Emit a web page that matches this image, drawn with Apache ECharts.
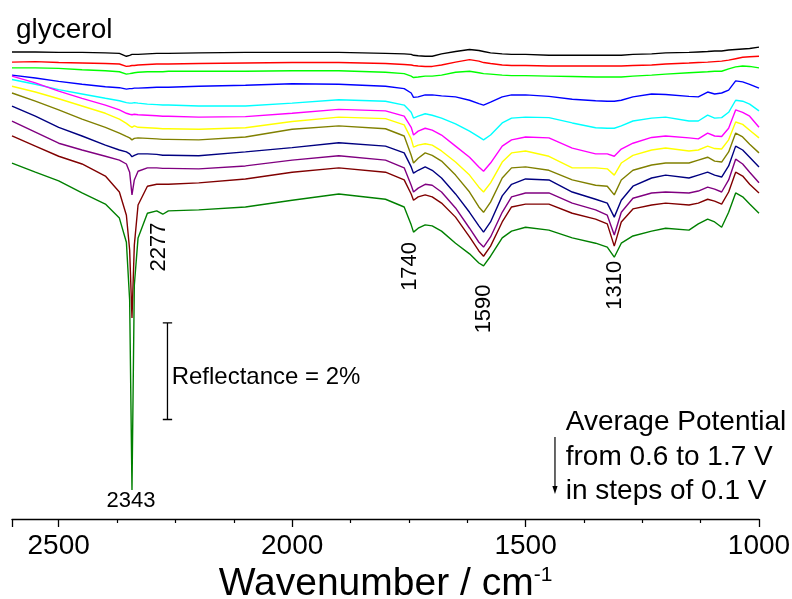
<!DOCTYPE html>
<html><head><meta charset="utf-8">
<script src="https://cdn.jsdelivr.net/npm/echarts@6/dist/echarts.min.js"></script>
<style>html,body{margin:0;padding:0;background:#fff}#c{width:792px;height:599px}</style>
</head><body><div id="c"></div>
<script>
// wavenumber grid (cm^-1)
const wavenumbers = [2600,2550,2500,2450,2400,2370,2355,2348,2343,2338,
  2330,2310,2290,2277,2265,2200,2100,2000,1900,1800,
  1760,1745,1740,1730,1715,1700,1680,1650,1620,1600,
  1590,1575,1550,1530,1500,1450,1400,1350,1325,1310,
  1295,1270,1230,1200,1150,1130,1110,1095,1080,1065,
  1050,1035,1020,1000];
const potentials = ['0.6 V','0.7 V','0.8 V','0.9 V','1.0 V','1.1 V','1.2 V','1.3 V','1.4 V','1.5 V','1.6 V','1.7 V'];
const colors = ['#000000','#ff0000','#00ff00','#0000ff','#00ffff','#ff00ff','#ffff00','#808000','#000080','#800080','#800000','#008000'];
// reflectance (%) incl. stacking offset
const r06 = [9.67,9.67,9.66,9.66,9.65,9.64,9.58,9.60,9.62,9.62,
  9.62,9.63,9.64,9.64,9.64,9.65,9.66,9.66,9.66,9.64,
  9.63,9.62,9.60,9.59,9.58,9.58,9.63,9.68,9.72,9.70,
  9.68,9.65,9.63,9.62,9.62,9.60,9.60,9.60,9.60,9.60,
  9.60,9.62,9.63,9.65,9.66,9.67,9.68,9.69,9.69,9.71,
  9.72,9.73,9.74,9.77];
const r07 = [9.46,9.47,9.45,9.44,9.43,9.42,9.37,9.38,9.39,9.39,
  9.40,9.41,9.42,9.42,9.42,9.43,9.44,9.45,9.45,9.43,
  9.41,9.40,9.39,9.38,9.37,9.37,9.40,9.46,9.51,9.48,
  9.45,9.43,9.40,9.39,9.39,9.38,9.38,9.38,9.38,9.38,
  9.38,9.39,9.40,9.42,9.44,9.45,9.46,9.47,9.48,9.50,
  9.53,9.56,9.57,9.58];
const r08 = [9.34,9.34,9.33,9.30,9.28,9.26,9.21,9.22,9.23,9.24,
  9.25,9.26,9.26,9.26,9.27,9.27,9.27,9.28,9.28,9.25,
  9.22,9.17,9.14,9.15,9.17,9.17,9.19,9.25,9.27,9.24,
  9.22,9.21,9.19,9.18,9.18,9.17,9.16,9.15,9.15,9.15,
  9.15,9.17,9.19,9.21,9.24,9.25,9.26,9.27,9.27,9.32,
  9.36,9.38,9.37,9.34];
const r09 = [9.19,9.13,9.06,9.00,8.95,8.93,8.90,8.91,8.91,8.92,
  8.92,8.93,8.94,8.94,8.94,8.96,8.98,9.01,9.00,8.96,
  8.91,8.82,8.73,8.74,8.78,8.78,8.76,8.74,8.67,8.60,
  8.57,8.63,8.74,8.78,8.78,8.75,8.69,8.66,8.65,8.65,
  8.67,8.74,8.80,8.79,8.75,8.74,8.84,8.80,8.82,8.88,
  9.07,9.05,9.00,8.92];
const r10 = [9.10,9.00,8.89,8.80,8.71,8.66,8.62,8.61,8.61,8.62,
  8.61,8.59,8.58,8.57,8.57,8.55,8.55,8.61,8.68,8.65,
  8.57,8.42,8.30,8.34,8.39,8.36,8.30,8.18,8.03,7.91,
  7.85,7.95,8.20,8.30,8.32,8.31,8.20,8.10,8.09,8.09,
  8.14,8.24,8.30,8.32,8.24,8.24,8.36,8.30,8.31,8.42,
  8.67,8.65,8.59,8.45];
const r11 = [9.17,9.03,8.86,8.71,8.57,8.47,8.40,8.38,8.37,8.38,
  8.37,8.36,8.35,8.34,8.34,8.32,8.33,8.40,8.48,8.45,
  8.34,8.11,7.95,8.03,8.09,8.05,7.95,7.72,7.49,7.29,
  7.20,7.37,7.72,7.85,7.91,7.89,7.68,7.56,7.56,7.51,
  7.66,7.78,7.90,7.93,7.89,7.87,7.99,7.93,7.92,8.09,
  8.47,8.42,8.34,8.11];
const r12 = [8.96,8.84,8.70,8.55,8.40,8.28,8.19,8.14,8.11,8.14,
  8.11,8.10,8.09,8.08,8.08,8.07,8.10,8.23,8.32,8.29,
  8.16,7.87,7.70,7.74,7.77,7.74,7.62,7.39,7.12,6.87,
  6.77,6.96,7.39,7.58,7.62,7.51,7.27,7.27,7.25,7.12,
  7.37,7.53,7.64,7.68,7.62,7.64,7.72,7.67,7.66,7.85,
  8.22,8.17,8.05,7.89];
const r13 = [8.82,8.65,8.47,8.28,8.11,7.99,7.92,7.89,7.85,7.88,
  7.89,7.88,7.87,7.86,7.86,7.85,7.91,8.07,8.14,8.08,
  7.93,7.53,7.37,7.47,7.58,7.53,7.41,7.12,6.77,6.46,
  6.35,6.56,7.06,7.27,7.29,7.22,7.02,6.91,6.89,6.71,
  7.02,7.22,7.33,7.37,7.37,7.43,7.49,7.41,7.39,7.60,
  7.99,7.91,7.76,7.58];
const r14 = [8.55,8.34,8.11,7.93,7.74,7.64,7.60,7.56,7.50,7.53,
  7.56,7.56,7.55,7.53,7.53,7.52,7.60,7.69,7.79,7.72,
  7.58,7.29,7.16,7.22,7.29,7.22,7.06,6.73,6.35,6.07,
  5.94,6.15,6.69,6.93,7.04,7.02,6.77,6.62,6.54,6.25,
  6.60,6.89,7.06,7.12,7.06,7.12,7.18,7.12,7.08,7.31,
  7.72,7.64,7.49,7.29];
const r15 = [8.24,8.01,7.78,7.64,7.51,7.43,7.35,7.18,6.71,7.02,
  7.20,7.27,7.27,7.26,7.26,7.25,7.31,7.43,7.52,7.43,
  7.27,6.91,6.77,6.85,6.93,6.91,6.77,6.44,6.02,5.73,
  5.63,5.84,6.35,6.67,6.75,6.75,6.54,6.40,6.29,5.88,
  6.35,6.64,6.75,6.77,6.75,6.79,6.87,6.83,6.77,7.02,
  7.45,7.35,7.18,6.96];
const r16 = [7.93,7.72,7.51,7.35,7.10,6.77,6.29,5.57,4.16,5.67,
  6.50,6.89,6.93,6.93,6.93,6.96,7.04,7.18,7.27,7.18,
  7.02,6.73,6.60,6.67,6.71,6.67,6.54,6.25,5.84,5.55,
  5.44,5.65,6.15,6.46,6.52,6.52,6.33,6.21,6.11,5.65,
  6.15,6.42,6.50,6.54,6.50,6.54,6.62,6.58,6.52,6.77,
  7.18,7.10,6.93,6.75];
const r17 = [7.37,7.18,7.00,6.75,6.52,6.23,5.73,4.53,0.60,4.84,
  5.82,6.33,6.38,6.31,6.38,6.40,6.46,6.60,6.73,6.62,
  6.46,6.09,5.94,6.02,6.09,6.07,5.96,5.71,5.49,5.30,
  5.24,5.44,5.82,5.96,6.04,5.98,5.82,5.71,5.63,5.42,
  5.71,5.86,5.96,6.02,5.98,6.11,6.21,6.15,6.04,6.35,
  6.75,6.67,6.52,6.33];
const seriesValues = [r06,r07,r08,r09,r10,r11,r12,r13,r14,r15,r16,r17];
// scale bar: 2 % reflectance
const scaleBarWn = 2267, scaleBarFrom = 2.06, scaleBarSpan = 2, scaleBarCap = 10;
// peak annotations [text, wavenumber, reflectance, rotated]
const peakLabels = [['2277',2286,5.63,true],['1740',1748,5.23,true],['1590',1590,4.35,true],['1310',1309,4.84,true],['2343',2345,0.38,false]];

const F = '"Liberation Sans", Arial, Helvetica, sans-serif';
const series = potentials.map((p,i)=>({
  name:p, type:'line', symbol:'none', showSymbol:false, silent:true,
  data: wavenumbers.map((w,j)=>[w, seriesValues[i][j]]),
  lineStyle:{width:1.4,color:colors[i]}, itemStyle:{color:colors[i]}, z:2+i
}));
const sbTop = scaleBarFrom + scaleBarSpan;
series.push({
  name:'scale', type:'line', symbol:'none', silent:true, z:20,
  lineStyle:{width:1.3,color:'#000'},
  data:[[scaleBarWn+scaleBarCap,sbTop],[scaleBarWn-scaleBarCap,sbTop],[scaleBarWn,sbTop],[scaleBarWn,scaleBarFrom],[scaleBarWn-scaleBarCap,scaleBarFrom],[scaleBarWn+scaleBarCap,scaleBarFrom]]
});

const chart = echarts.init(document.getElementById('c'));
chart.setOption({
  animation:false,
  backgroundColor:'#fff',
  grid:{left:12,right:33,top:36,bottom:80,containLabel:false,outerBoundsMode:'none'},
  xAxis:{
    type:'value', min:1000, max:2600, interval:500, inverse:true,
    axisLine:{show:true,lineStyle:{color:'#000',width:1.3}},
    axisTick:{show:true,inside:false,length:8,lineStyle:{color:'#000',width:1.3}},
    minorTick:{show:true,splitNumber:4,length:4,lineStyle:{color:'#000',width:1.2}},
    axisLabel:{showMaxLabel:false,fontSize:28,color:'#000',fontFamily:F,margin:13,formatter:v=>String(v)},
    splitLine:{show:false}, minorSplitLine:{show:false},
    name:'{a|Wavenumber / cm}{b|-1}', nameLocation:'middle', nameGap:39,
    nameTextStyle:{color:'#000',fontFamily:F,rich:{a:{fontSize:39,fontFamily:F,color:'#000'},b:{fontSize:21,fontFamily:F,color:'#000',verticalAlign:'top'}}}
  },
  yAxis:{type:'value',min:0,max:10,show:false},
  series:series
});

const P = (wn,r)=>chart.convertToPixel({gridIndex:0},[wn,r]);
const g = [];
g.push({type:'text',x:16,y:30.3,silent:true,style:{text:'glycerol',font:'28px '+F,fill:'#000',align:'left',verticalAlign:'middle'}});
peakLabels.forEach(([t,w,r,rot])=>{
  const p=P(w,r);
  g.push({type:'text',x:p[0],y:p[1],rotation:rot?Math.PI/2:0,silent:true,style:{text:t,font:'22px '+F,fill:'#000',align:'center',verticalAlign:'middle'}});
});
const rp = P(2258,2.94);
g.push({type:'text',x:rp[0],y:rp[1],silent:true,style:{text:'Reflectance = 2%',font:'24px '+F,fill:'#000',align:'left',verticalAlign:'middle'}});
const potLines = [['Average Potential',2.00],['from 0.6 to 1.7 V',1.27],['in steps of 0.1 V',0.58]];
potLines.forEach(([t,r])=>{
  const p=P(1414,r);
  g.push({type:'text',x:p[0],y:p[1],silent:true,style:{text:t,font:'28px '+F,fill:'#000',align:'left',verticalAlign:'middle'}});
});
const a1=P(1437,1.70), a2=P(1437,0.52);
g.push({type:'line',silent:true,shape:{x1:a1[0],y1:a1[1],x2:a2[0],y2:a2[1]-6},style:{stroke:'#000',lineWidth:1.2}});
g.push({type:'polygon',silent:true,shape:{points:[[a2[0]-2.6,a2[1]-8],[a2[0]+2.6,a2[1]-8],[a2[0],a2[1]]]},style:{fill:'#000'}});
chart.setOption({graphic:g});
</script></body></html>
